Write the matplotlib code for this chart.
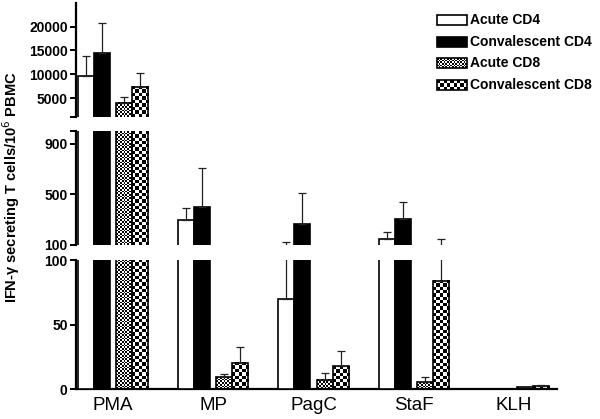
import numpy as np
import matplotlib
matplotlib.use("Agg")
import matplotlib.pyplot as plt
from matplotlib.patches import Rectangle

plt.rcParams["font.family"] = ["Liberation Sans", "DejaVu Sans"]

CATEGORIES = ["PMA", "MP", "PagC", "StaF", "KLH"]
SERIES = ["Acute CD4", "Convalescent CD4", "Acute CD8", "Convalescent CD8"]
ACUTE_CD4 = [9600, 300, 70, 148, 0]
ACUTE_CD4_ERR = [4150, 89, 54, 51, 0]
CONV_CD4 = [14400, 397, 264, 306, 0]
CONV_CD4_ERR = [6300, 309, 244, 133, 0]
ACUTE_CD8 = [4000, 9.1, 7.0, 5.2, 1.2]
ACUTE_CD8_ERR = [1300, 2.3, 5.6, 3.8, 0.5]
CONV_CD8 = [7350, 20.4, 17.6, 84, 2.3]
CONV_CD8_ERR = [2950, 12.4, 12.1, 66, 1.0]

# broken y axis: (limits, ticks) per segment, top to bottom
SEG_LIMITS = [(1000, 25000), (100, 1000), (0, 100)]
SEG_TICKS = [[5000, 10000, 15000, 20000], [100, 500, 900], [0, 50, 100]]

OFFSETS = [-0.27, -0.11, 0.11, 0.27]
WIDTH = 0.16
FILLS = ["white", "black", 1.7, 3.3]  # colour, or checker cell size in px
XLIM = (-0.37, 4.43)

W, H = 600, 419


def checker(ax, x0, x1, y0, y1, cell_px, zorder=2):
    """Black/white checkerboard texture covering a rectangle in data coords."""
    (px0, py0), (px1, py1) = ax.transData.transform([(x0, y0), (x1, y1)])
    nx = max(1, int(round(abs(px1 - px0) / cell_px)))
    ny = max(1, int(round(abs(py1 - py0) / cell_px)))
    img = np.indices((ny, nx)).sum(axis=0) % 2
    ax.imshow(img, cmap="gray", vmin=0, vmax=1, extent=(x0, x1, y0, y1),
              origin="lower", interpolation="nearest", aspect="auto", zorder=zorder)


fig = plt.figure(figsize=(W / 100, H / 100), dpi=100, facecolor="white")
seg_px = [(3, 117), (131, 245), (260, 389)]
x = np.arange(len(CATEGORIES))
values = [ACUTE_CD4, CONV_CD4, ACUTE_CD8, CONV_CD8]
errors = [ACUTE_CD4_ERR, CONV_CD4_ERR, ACUTE_CD8_ERR, CONV_CD8_ERR]

for i, ((top, bot), (ylo, yhi), ticks) in enumerate(zip(seg_px, SEG_LIMITS, SEG_TICKS)):
    ax = fig.add_axes([76 / W, (H - bot) / H, (557 - 76) / W, (bot - top) / H])
    ax.set_xlim(*XLIM)
    ax.set_ylim(ylo, yhi)
    for k in range(4):
        xs = x + OFFSETS[k]
        vals = np.array(values[k], dtype=float)
        errs = np.array(errors[k], dtype=float)
        if isinstance(FILLS[k], str):
            ax.bar(xs, vals, WIDTH, color=FILLS[k], edgecolor="black", linewidth=1.2, zorder=3)
        else:
            ax.bar(xs, vals, WIDTH, facecolor="none", edgecolor="black", linewidth=1.2, zorder=3)
            for xi, v in zip(xs, vals):
                lo, hi = max(ylo, 0), min(v, yhi)
                if hi > lo:
                    checker(ax, xi - WIDTH / 2, xi + WIDTH / 2, lo, hi, FILLS[k])
        # only the error bars that reach into this segment
        m = (errs > 0) & (vals + errs > ylo) & (vals < yhi)
        if m.any():
            ax.errorbar(xs[m], vals[m], yerr=[np.zeros(m.sum()), errs[m]], fmt="none",
                        ecolor="#222222", elinewidth=0.9, capsize=3, capthick=0.9, zorder=4)
    ax.set_xlim(*XLIM)
    ax.set_ylim(ylo, yhi)

    for side in ("top", "right"):
        ax.spines[side].set_visible(False)
    ax.spines["left"].set_linewidth(1.6)
    ax.set_yticks(ticks)
    ax.set_yticklabels([str(t) for t in ticks], fontsize=10, fontweight="bold")
    ax.tick_params(axis="y", length=4, width=1.4, pad=2)
    # small hooks at the break edges
    breaks = {0: [ylo], 1: [yhi]}.get(i, [])
    ax.set_yticks(breaks, minor=True)
    ax.tick_params(axis="y", which="minor", length=4, width=1.4)
    if i < 2:
        ax.spines["bottom"].set_visible(False)
        ax.set_xticks([])
    else:
        ax.spines["bottom"].set_linewidth(1.6)
        ax.set_xticks(x, CATEGORIES, fontsize=13.5)
        ax.tick_params(axis="x", length=0, pad=6)

fig.text(0.019, 0.553, "IFN-γ secreting T cells/10$^6$ PBMC", rotation=90,
         ha="center", va="center", fontsize=10.5, fontweight="bold")

# legend drawn by hand so the checker fills show in the keys
lg = fig.add_axes([0, 0, 1, 1], facecolor="none")
lg.set_xlim(0, W)
lg.set_ylim(H, 0)
lg.axis("off")
for r, (name, fill) in enumerate(zip(SERIES, FILLS)):
    yc = 20 + r * 21.7
    if isinstance(fill, str):
        lg.add_patch(Rectangle((437, yc - 5), 30, 10, facecolor=fill, edgecolor="black", lw=1.2))
    else:
        checker(lg, 437, 467, yc - 5, yc + 5, fill)
        lg.add_patch(Rectangle((437, yc - 5), 30, 10, facecolor="none", edgecolor="black", lw=1.2, zorder=3))
    lg.text(470, yc, name, va="center", ha="left", fontsize=10, fontweight="bold")
lg.set_xlim(0, W)
lg.set_ylim(H, 0)

fig.savefig("out.png", dpi=100, facecolor="white")
